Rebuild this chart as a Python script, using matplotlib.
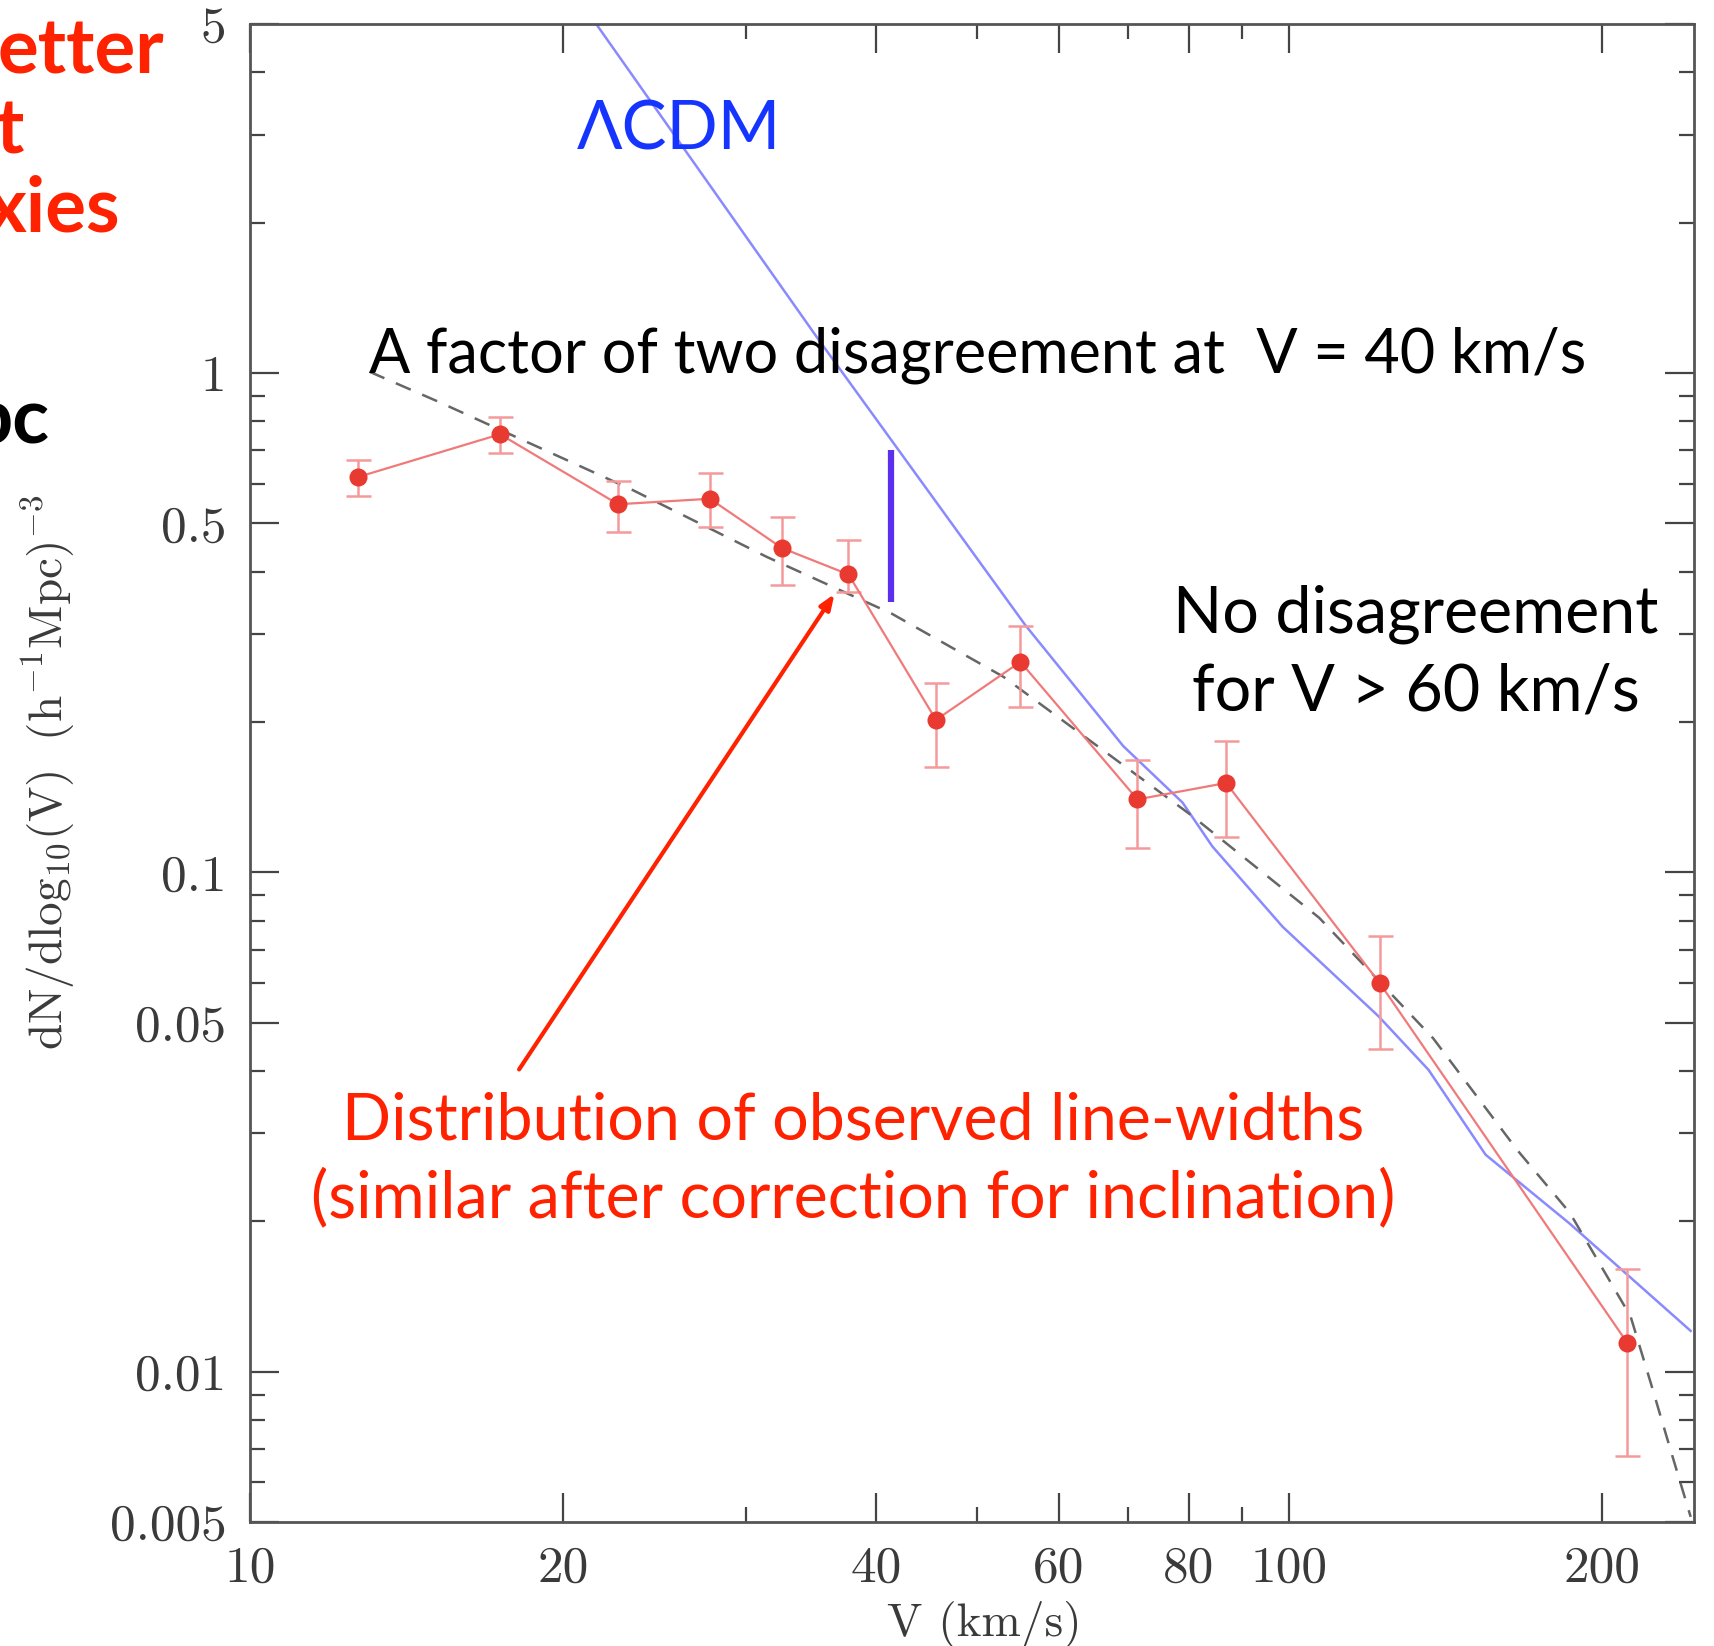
'''
Velocity function plot: observed line-widths vs LCDM
'''

# Imports
import matplotlib
matplotlib.use('Agg')
import matplotlib.pyplot as plt
from matplotlib.ticker import FixedLocator, FixedFormatter, NullFormatter

# Main Vars
# observed points (V in km/s, dN/dlog10V)
V_obs = [12.7, 17.4, 22.6, 27.7, 32.5, 37.65, 45.7, 55.1, 71.4, 86.9, 122.2, 211.3]
N_obs = [0.619, 0.754, 0.546, 0.560, 0.446, 0.395, 0.202, 0.264, 0.140, 0.151, 0.0599, 0.01143]
N_hi = [0.671, 0.817, 0.607, 0.632, 0.516, 0.464, 0.240, 0.312, 0.1675, 0.1834, 0.0747, 0.01603]
N_lo = [0.568, 0.692, 0.481, 0.491, 0.377, 0.364, 0.1625, 0.2145, 0.1119, 0.1177, 0.0442, 0.00677]

# LCDM prediction
V_lcdm = [21.53, 35.2, 55.7, 69.2, 78.9, 84.3, 98.5, 121.8, 136.1, 154.4, 186.0, 243.2]
N_lcdm = [5.0, 1.17, 0.3127, 0.179, 0.138, 0.1127, 0.0778, 0.0515, 0.0402, 0.0272, 0.0198, 0.01207]

# dashed fit
V_fit = [13.03, 15.18, 23.34, 31.4, 41.4, 53.05, 80.5, 106.8, 137.5, 165.6, 186.1, 212.9, 222.6, 232.6, 243.2]
N_fit = [1.006, 0.876, 0.583, 0.4285, 0.330, 0.2465, 0.130, 0.0811, 0.0465, 0.0278, 0.0208, 0.0129, 0.0095, 0.00697, 0.00512]

# factor-of-two marker
V_bar = 41.4
N_bar = [0.3483, 0.701]

x_major = [10, 20, 40, 60, 80, 100, 200]
x_major_labels = ['10', '20', '40', '60', '80', '100', '200']
x_minor = [30, 50, 70, 90]
y_major = [0.005, 0.01, 0.05, 0.1, 0.5, 1, 5]
y_major_labels = ['0.005', '0.01', '0.05', '0.1', '0.5', '1', '5']
y_minor = [0.006, 0.007, 0.008, 0.009, 0.02, 0.03, 0.04, 0.06, 0.07, 0.08, 0.09,
           0.2, 0.3, 0.4, 0.6, 0.7, 0.8, 0.9, 2, 3, 4]

W, H = 1714, 1646
SANS = ['Lato', 'DejaVu Sans']
RED = '#ff2200'

plt.rcParams['mathtext.fontset'] = 'cm'

# Plot
fig = plt.figure(figsize=(W / 100, H / 100), dpi=100)
ax = fig.add_axes([250 / W, 1 - 1522 / H, 1444 / W, 1498 / H])
ax.set_xscale('log')
ax.set_yscale('log')
ax.set_xlim(10, 245)
ax.set_ylim(0.005, 5)

# model curves
ax.plot(V_lcdm, N_lcdm, color='#8a8aff', lw=1.8, zorder=2)
ax.plot(V_fit, N_fit, color='#666666', lw=1.8, dashes=(6.5, 5), zorder=2)

# data
yerr = [[n - l for n, l in zip(N_obs, N_lo)], [h - n for n, h in zip(N_obs, N_hi)]]
ax.errorbar(V_obs, N_obs, yerr=yerr, fmt='none', ecolor='#f59a9a', elinewidth=1.8,
            capsize=9, capthick=1.8, zorder=3)
ax.plot(V_obs, N_obs, color='#f07a7a', lw=1.6, zorder=3)
ax.plot(V_obs, N_obs, 'o', color='#e83a30', ms=13, mec='none', zorder=4)

# factor-of-two bar
ax.plot([V_bar, V_bar], N_bar, color='#5a30ee', lw=4.5, solid_capstyle='butt', zorder=4)

# arrow
ax.annotate('', xy=(36.5, 0.361), xytext=(18.15, 0.0403),
            arrowprops=dict(arrowstyle='-|>,head_length=0.9,head_width=0.35',
                            color=RED, lw=3, shrinkA=0, shrinkB=0), zorder=5)

# axes styling
for s in ax.spines.values():
    s.set_color('#555555')
    s.set_linewidth(2)
ax.xaxis.set_major_locator(FixedLocator(x_major))
ax.xaxis.set_major_formatter(FixedFormatter(x_major_labels))
ax.xaxis.set_minor_locator(FixedLocator(x_minor))
ax.xaxis.set_minor_formatter(NullFormatter())
ax.yaxis.set_major_locator(FixedLocator(y_major))
ax.yaxis.set_major_formatter(FixedFormatter(y_major_labels))
ax.yaxis.set_minor_locator(FixedLocator(y_minor))
ax.yaxis.set_minor_formatter(NullFormatter())
ax.tick_params(which='both', direction='in', top=True, right=True, color='#444444',
               width=1.6)
ax.tick_params(which='major', length=21, pad=17, labelsize=37, labelcolor='#3a3a3a')
ax.tick_params(which='minor', length=11)
for lab in ax.get_xticklabels() + ax.get_yticklabels():
    lab.set_family('cmr10')

# axis titles
fig.text(984 / W, 1 - 1625 / H, 'V (km/s)', family='cmr10', fontsize=34,
         color='#3a3a3a', ha='center', va='center')
fig.text(49 / W, 1 - 772 / H, r'$\mathrm{dN/dlog_{10}(V)\ \ (h^{-1}Mpc)^{-3}}$',
         fontsize=34, color='#3a3a3a', rotation=90, ha='center', va='center')

# annotations
fig.text(577 / W, 1 - 150 / H, 'ΛCDM', family=SANS, fontsize=48.5, color='#1535ff',
         ha='left', va='baseline')
fig.text(369 / W, 1 - 372 / H, 'A factor of two disagreement at  V = 40 km/s',
         family=SANS, fontsize=44, color='black', ha='left', va='baseline')
fig.text(1416 / W, 1 - 632 / H, 'No disagreement', family=SANS, fontsize=46.5,
         color='black', ha='center', va='baseline')
fig.text(1416 / W, 1 - 711 / H, 'for V > 60 km/s', family=SANS, fontsize=46.5,
         color='black', ha='center', va='baseline')
fig.text(853 / W, 1 - 1139 / H, 'Distribution of observed line-widths', family=SANS,
         fontsize=46.5, color=RED, ha='center', va='baseline')
fig.text(853 / W, 1 - 1217 / H, '(similar after correction for inclination)',
         family=SANS, fontsize=46.5, color=RED, ha='center', va='baseline')

# clipped slide text on the left
fig.text(164 / W, 1 - 74 / H, 'etter', family=SANS, fontsize=55, weight='bold',
         color=RED, ha='right', va='baseline')
fig.text(24 / W, 1 - 153 / H, 't', family=SANS, fontsize=55, weight='bold',
         color=RED, ha='right', va='baseline')
fig.text(120 / W, 1 - 232 / H, 'xies', family=SANS, fontsize=55, weight='bold',
         color=RED, ha='right', va='baseline')
fig.text(49 / W, 1 - 443 / H, 'pc', family=SANS, fontsize=55, weight='bold',
         color='black', ha='right', va='baseline')

fig.savefig('out.png', dpi=100)
plt.close(fig)
